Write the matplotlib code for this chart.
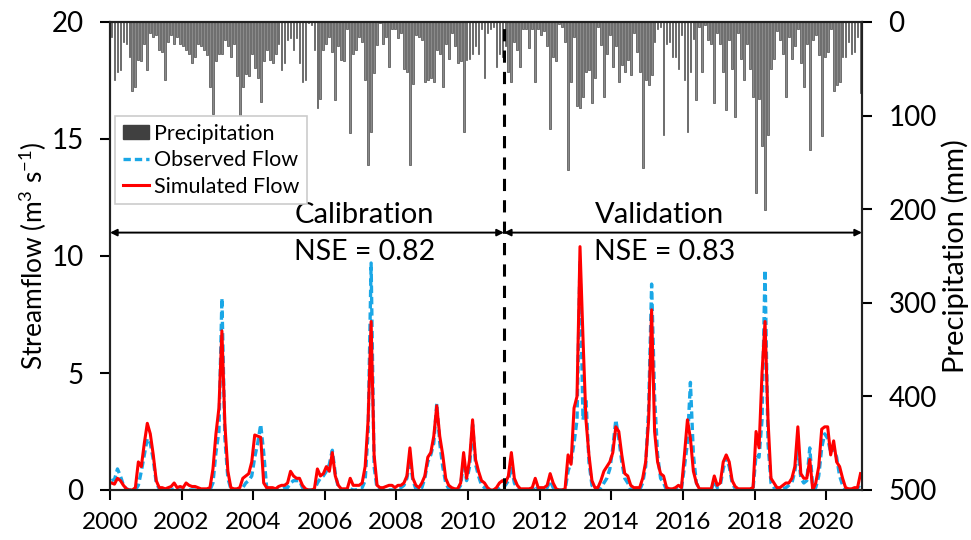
import numpy as np
import matplotlib
matplotlib.use("Agg")
import matplotlib.pyplot as plt
from matplotlib.patches import Patch
from matplotlib.lines import Line2D

plt.rcParams['font.family'] = ['Lato', 'DejaVu Sans']
plt.rcParams['mathtext.fontset'] = 'custom'
plt.rcParams['mathtext.rm'] = 'Lato'

# monthly precipitation (mm), one row per year 2000..2020
precip_mm = [
    16, 62, 53, 51, 21, 23, 37, 74, 69, 41, 42, 23,
    51, 12, 16, 14, 30, 32, 62, 21, 14, 23, 16, 23,
    26, 30, 34, 44, 37, 23, 26, 30, 35, 69, 98, 42,
    34, 34, 19, 26, 37, 23, 58, 108, 69, 56, 58, 34,
    49, 60, 85, 42, 30, 41, 44, 34, 23, 51, 44, 19,
    17, 30, 17, 44, 64, 62, 1, 3, 30, 92, 82, 30,
    23, 16, 32, 83, 26, 41, 42, 8, 119, 34, 30, 16,
    21, 62, 153, 117, 55, 25, 1, 23, 16, 48, 8, 8,
    17, 12, 50, 53, 153, 66, 14, 16, 19, 64, 62, 60,
    64, 30, 34, 69, 23, 39, 12, 26, 44, 42, 117, 41,
    39, 34, 26, 34, 7, 60, 12, 8, 5, 48, 34, 37,
    26, 53, 64, 21, 30, 48, 8, 7, 28, 8, 64, 8,
    14, 10, 26, 114, 37, 42, 2, 5, 21, 158, 64, 16,
    90, 92, 80, 53, 51, 87, 60, 5, 25, 80, 34, 14,
    48, 26, 64, 46, 53, 41, 57, 12, 32, 53, 156, 62,
    67, 57, 21, 8, 5, 121, 23, 21, 37, 37, 50, 14,
    62, 117, 53, 18, 83, 5, 53, 3, 19, 23, 87, 12,
    23, 53, 94, 19, 50, 101, 12, 39, 62, 23, 50, 80,
    183, 82, 133, 201, 121, 50, 39, 10, 19, 34, 80, 16,
    39, 26, 8, 44, 69, 23, 137, 19, 14, 35, 122, 37,
    32, 8, 74, 67, 64, 37, 37, 21, 34, 32, 16, 76,
]

# observed monthly streamflow (m3/s)
observed_flow = [
    0.4, 0.45, 0.9, 0.6, 0.2, 0.05, 0.0, 0.0, 0.0, 0.2, 0.8, 1.5,
    2.2, 2.0, 1.3, 0.3, 0.05, 0.0, 0.0, 0.0, 0.0, 0.05, 0.0, 0.0,
    0.0, 0.05, 0.0, 0.0, 0.0, 0.0, 0.0, 0.0, 0.0, 0.0, 0.3, 1.6,
    2.5, 8.2, 2.2, 0.5, 0.05, 0.0, 0.0, 0.0, 0.1, 0.3, 0.4, 0.6,
    1.4, 2.0, 2.8, 1.6, 0.1, 0.0, 0.0, 0.0, 0.0, 0.05, 0.1, 0.1,
    0.3, 0.4, 0.4, 0.4, 0.1, 0.0, 0.0, 0.0, 0.0, 0.3, 0.5, 0.6,
    0.8, 1.1, 1.7, 0.7, 0.1, 0.0, 0.0, 0.0, 0.05, 0.0, 0.0, 0.1,
    0.1, 0.4, 2.5, 9.7, 1.0, 0.05, 0.0, 0.0, 0.0, 0.0, 0.0, 0.0,
    0.1, 0.1, 0.2, 0.5, 1.3, 0.4, 0.05, 0.0, 0.1, 0.5, 1.2, 1.5,
    2.0, 3.7, 2.0, 1.0, 0.3, 0.05, 0.0, 0.0, 0.0, 0.2, 1.2, 0.4,
    1.0, 2.8, 1.1, 0.6, 0.2, 0.1, 0.0, 0.0, 0.0, 0.0, 0.1, 0.2,
    0.2, 0.4, 1.0, 0.3, 0.05, 0.0, 0.0, 0.0, 0.0, 0.0, 0.2, 0.05,
    0.0, 0.0, 0.1, 0.4, 0.1, 0.0, 0.0, 0.0, 0.0, 0.8, 1.2, 2.0,
    3.0, 9.8, 3.0, 3.9, 1.2, 0.2, 0.0, 0.0, 0.1, 0.3, 0.5, 0.9,
    1.8, 3.0, 2.2, 1.2, 0.5, 0.3, 0.0, 0.0, 0.0, 0.0, 0.3, 1.0,
    3.5, 8.8, 4.0, 1.5, 0.5, 0.3, 0.0, 0.0, 0.0, 0.0, 0.1, 0.05,
    1.0, 2.0, 4.6, 1.5, 0.3, 0.05, 0.0, 0.0, 0.0, 0.0, 0.4, 0.1,
    0.2, 0.9, 1.4, 1.0, 0.3, 0.05, 0.0, 0.0, 0.0, 0.0, 0.0, 0.05,
    1.5, 1.4, 3.0, 9.4, 2.0, 0.3, 0.1, 0.0, 0.0, 0.05, 0.1, 0.2,
    0.3, 0.8, 1.8, 0.5, 0.3, 0.4, 1.8, 0.1, 0.1, 0.6, 1.8, 2.4,
    2.2, 1.6, 1.8, 1.4, 0.6, 0.2, 0.0, 0.0, 0.0, 0.0, 0.05, 0.3,
]

# simulated monthly streamflow (m3/s)
simulated_flow = [
    0.3, 0.25, 0.5, 0.4, 0.2, 0.05, 0.0, 0.0, 0.1, 1.2, 1.0, 2.0,
    2.85, 2.4, 1.5, 0.4, 0.1, 0.1, 0.05, 0.1, 0.15, 0.3, 0.1, 0.15,
    0.1, 0.3, 0.2, 0.15, 0.15, 0.1, 0.05, 0.05, 0.05, 0.1, 0.9, 2.4,
    3.5, 6.8, 2.8, 0.8, 0.1, 0.05, 0.05, 0.1, 0.5, 0.6, 0.7, 1.2,
    2.35, 2.3, 2.25, 0.3, 0.1, 0.1, 0.1, 0.05, 0.15, 0.2, 0.2, 0.3,
    0.8, 0.6, 0.5, 0.5, 0.2, 0.05, 0.0, 0.0, 0.05, 0.9, 0.6, 0.7,
    1.0, 0.8, 1.6, 0.6, 0.2, 0.05, 0.05, 0.05, 0.5, 0.2, 0.2, 0.2,
    0.3, 1.0, 3.0, 7.2, 1.5, 0.2, 0.1, 0.1, 0.15, 0.2, 0.2, 0.1,
    0.2, 0.2, 0.3, 0.6, 1.8, 0.5, 0.2, 0.1, 0.3, 0.6, 1.4, 1.6,
    2.3, 3.6, 2.3, 1.5, 0.5, 0.2, 0.1, 0.05, 0.05, 0.3, 1.6, 0.5,
    1.3, 3.0, 1.3, 0.8, 0.4, 0.3, 0.1, 0.0, 0.0, 0.1, 0.3, 0.4,
    0.3, 0.6, 1.6, 0.5, 0.2, 0.05, 0.05, 0.05, 0.05, 0.1, 0.5, 0.1,
    0.1, 0.1, 0.2, 0.7, 0.3, 0.05, 0.0, 0.0, 0.05, 1.5, 1.1, 3.5,
    4.0, 10.4, 6.5, 3.0, 1.5, 0.4, 0.1, 0.1, 0.4, 0.8, 1.0, 1.2,
    1.6, 2.7, 2.5, 1.5, 0.7, 0.6, 0.2, 0.1, 0.1, 0.1, 0.5, 1.2,
    3.0, 7.7, 2.5, 1.2, 0.7, 0.6, 0.1, 0.05, 0.05, 0.1, 0.2, 0.1,
    1.5, 3.0, 2.2, 0.8, 0.3, 0.05, 0.05, 0.05, 0.05, 0.05, 0.6, 0.2,
    0.3, 1.2, 1.5, 1.2, 0.4, 0.15, 0.05, 0.05, 0.05, 0.05, 0.05, 0.1,
    2.5, 1.8, 5.0, 7.2, 3.0, 0.5, 0.3, 0.1, 0.1, 0.2, 0.3, 0.3,
    0.5, 1.0, 2.7, 0.7, 0.5, 0.5, 1.3, 0.0, 0.3, 1.0, 2.6, 2.7,
    2.7, 1.5, 2.1, 1.2, 1.0, 0.5, 0.1, 0.05, 0.05, 0.1, 0.1, 0.7,
]

start_year = 2000
split_year = 2011
end_year = 2021
x_ticks = list(range(2000, 2021, 2))
nse_calibration = 0.82
nse_validation = 0.83

months = start_year + (np.arange(len(precip_mm)) + 0.5) / 12

fig = plt.figure(figsize=(9.71, 5.40), dpi=100)
ax = fig.add_axes([110 / 971, 50 / 540, 752 / 971, 468 / 540])
ax2 = ax.twinx()

# precipitation hangs from the top of the secondary axis
ax2.bar(months, precip_mm, width=0.6 / 12, color='#8a8a8a',
        edgecolor='#4a4a4a', linewidth=0.5)
ax2.set_ylim(500, 0)
ax2.set_yticks(range(0, 501, 100))
ax2.set_ylabel('Precipitation (mm)', fontsize=21, labelpad=3)

ax.plot(months, observed_flow, color='#1aa7e6', lw=2.4, ls=(0, (2.2, 1.2)))
ax.plot(months, simulated_flow, color='#ff0000', lw=2.2)
ax.set_zorder(ax2.get_zorder() + 1)
ax.patch.set_visible(False)

ax.set_xlim(start_year, end_year)
ax.set_ylim(0, 20)
ax.set_yticks(range(0, 21, 5))
ax.set_xticks(x_ticks)
ax.set_ylabel(r'Streamflow (m$\mathregular{^{3}}$ s$\mathregular{^{-1}}$)',
              fontsize=19, labelpad=2)

ax.axvline(split_year, color='black', lw=2.2, ls=(0, (4, 3)))

arrow = dict(arrowstyle='<|-|>', color='black', lw=1.4, mutation_scale=10,
             shrinkA=0, shrinkB=0)
ax.annotate('', xy=(start_year, 11), xytext=(split_year, 11), arrowprops=arrow)
ax.annotate('', xy=(split_year, 11), xytext=(end_year, 11), arrowprops=arrow)
ax.text(2007.1, 11.75, 'Calibration', ha='center', va='center', fontsize=21)
ax.text(2007.1, 10.15, f'NSE = {nse_calibration}', ha='center', va='center', fontsize=20.5)
ax.text(2015.35, 11.75, 'Validation', ha='center', va='center', fontsize=21)
ax.text(2015.5, 10.15, f'NSE = {nse_validation}', ha='center', va='center', fontsize=20.5)

for a in (ax, ax2):
    for s in a.spines.values():
        s.set_linewidth(1.5)
        s.set_color('#222222')
    a.tick_params(direction='out', length=7, width=1.5, labelsize=20, pad=12)
ax.tick_params(axis='x', labelsize=17.5, pad=9)

handles = [Patch(facecolor='#404040', edgecolor='#404040'),
           Line2D([], [], color='#1aa7e6', lw=2.4, ls=(0, (2.2, 1.2))),
           Line2D([], [], color='#ff0000', lw=2.2)]
labels = ['Precipitation', 'Observed Flow', 'Simulated Flow']
leg = ax.legend(handles, labels, loc='upper left', bbox_to_anchor=(0.007, 0.799),
                borderaxespad=0, fontsize=15.5, frameon=True, fancybox=False,
                handlelength=1.2, handleheight=0.6, handletextpad=0.25,
                borderpad=0.35, labelspacing=0.3, framealpha=1)
leg.get_frame().set_edgecolor('#cccccc')
leg.get_frame().set_linewidth(1.2)

fig.savefig('out.png', dpi=100)
